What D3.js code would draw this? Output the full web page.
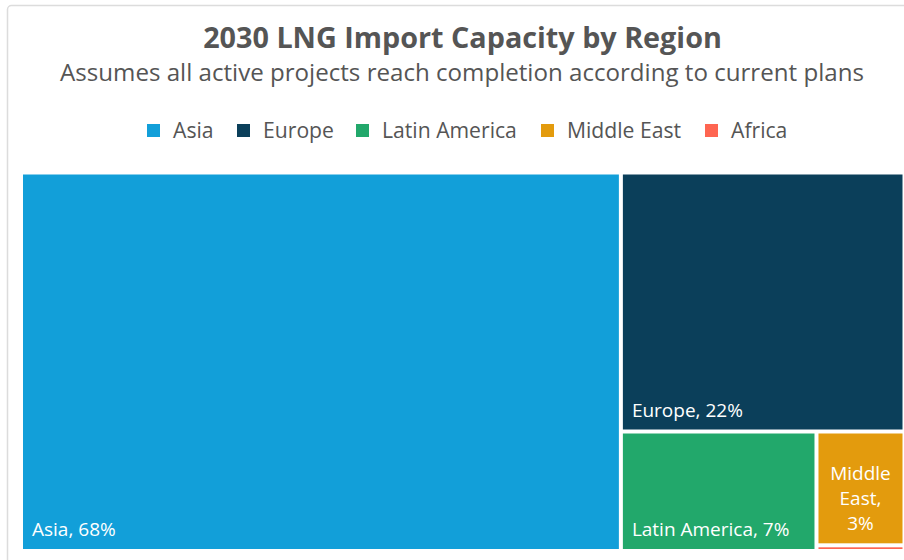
<!DOCTYPE html>
<html>
<head>
<meta charset="utf-8">
<script src="https://cdn.jsdelivr.net/npm/d3@7"></script>
<style>
  html, body { margin: 0; padding: 0; background: #fff; }
  svg { display: block; font-family: "Open Sans", Lato, sans-serif; }
</style>
</head>
<body>
<svg id="chart" width="904" height="560"></svg>
<script>
// Share of 2030 LNG import capacity, percent
const regions = ["Asia", "Europe", "Latin America", "Middle East", "Africa"];
const shares  = [68, 22, 7, 3, 0.15];
const colors  = ["#129fd9", "#0b3f5a", "#22a86b", "#e39b0d", "#fe6551"];

const titleText = "2030 LNG Import Capacity by Region";
const subtitleText = "Assumes all active projects reach completion according to current plans";

const svg = d3.select("#chart");

// fit a text element to a target width by adjusting its font size
function fitWidth(sel, target) {
  const fs = parseFloat(sel.attr("font-size"));
  const w = sel.node().getComputedTextLength();
  sel.attr("font-size", fs * target / w);
}

// outer frame
svg.append("rect")
  .attr("x", 7.5).attr("y", 5.5)
  .attr("width", 1000).attr("height", 1000)
  .attr("rx", 4)
  .attr("fill", "none")
  .attr("stroke", "#dcdcdc")
  .attr("stroke-width", 1.5);

const title = svg.append("text")
  .attr("x", 462.5).attr("y", 48)
  .attr("text-anchor", "middle")
  .attr("font-size", 27).attr("font-weight", 700)
  .attr("fill", "#555")
  .text(titleText);
fitWidth(title, 519);

const subtitle = svg.append("text")
  .attr("x", 462).attr("y", 81)
  .attr("text-anchor", "middle")
  .attr("font-size", 22)
  .attr("fill", "#555")
  .text(subtitleText);
fitWidth(subtitle, 804);

// legend
const legendX = [147, 237, 356, 541, 705];
const legend = svg.append("g");
let legendFs = 20;
regions.forEach((r, i) => {
  const g = legend.append("g").attr("transform", `translate(${legendX[i]},0)`);
  g.append("rect").attr("x", 0).attr("y", 124).attr("width", 13).attr("height", 13)
    .attr("fill", colors[i]);
  const t = g.append("text").attr("x", 26).attr("y", 138)
    .attr("font-size", legendFs).attr("fill", "#555").text(r);
  if (r === "Latin America") {
    fitWidth(t, 135);
    legendFs = +t.attr("font-size");
  }
});
legend.selectAll("text").attr("font-size", legendFs);

// treemap
const gap = 4;
const area = { x0: 23 - gap / 2, y0: 174.5 - gap / 2, x1: 902.5 + gap / 2, y1: 549 + gap / 2 };

const data = regions.map((name, i) => ({ name, value: shares[i], color: colors[i] }));
const root = d3.hierarchy({ children: data })
  .sum(d => d.value || 0)
  .sort((a, b) => b.value - a.value);

d3.treemap()
  .tile(d3.treemapSquarify)
  .size([area.x1 - area.x0, area.y1 - area.y0])
  .round(false)(root);

const total = root.value;
const tiles = svg.append("g").attr("transform", `translate(${area.x0},${area.y0})`);

const leaf = tiles.selectAll("g").data(root.leaves()).join("g");
leaf.append("rect")
  .attr("x", d => d.x0 + gap / 2)
  .attr("y", d => d.y0 + gap / 2)
  .attr("width", d => Math.max(0, d.x1 - d.x0 - gap))
  .attr("height", d => Math.max(1.5, d.y1 - d.y0 - gap))
  .attr("fill", d => d.data.color);

const labelSize = 19;
const lineH = 25;
leaf.each(function (d) {
  const w = d.x1 - d.x0 - gap, h = d.y1 - d.y0 - gap;
  if (h < 30) return;
  const pct = Math.round(d.data.value / total * 100) + "%";
  const full = `${d.data.name}, ${pct}`;
  const g = d3.select(this);
  const left = d.x0 + gap / 2, bottom = d.y1 - gap / 2;
  const t = g.append("text")
    .attr("fill", "#fff")
    .attr("font-size", labelSize)
    .text(full);
  const tw = t.node().getComputedTextLength();
  if (tw + 20 <= w) {
    t.attr("x", left + 9).attr("y", bottom - 13);
  } else {
    // narrow tile: one word per line, centred, sitting on the bottom
    t.remove();
    const lines = full.split(" ");
    const cx = left + w / 2;
    const txt = g.append("text").attr("fill", "#fff").attr("font-size", labelSize)
      .attr("text-anchor", "middle");
    lines.forEach((l, i) => {
      txt.append("tspan").attr("x", cx)
        .attr("y", bottom - 13 - (lines.length - 1 - i) * lineH)
        .text(l);
    });
  }
});
</script>
</body>
</html>
